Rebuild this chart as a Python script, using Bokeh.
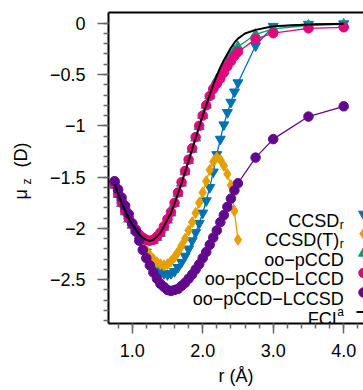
from bokeh.plotting import figure
from bokeh.models import Range1d, FixedTicker, LinearAxis, Label, Title
from bokeh.embed import file_html
from bokeh.resources import INLINE
import numpy as np

FONT = "Liberation Sans"

# ---------------- data ----------------
r_dense = [0.75, 0.80, 0.85, 0.90, 0.95, 1.00, 1.05, 1.10, 1.15, 1.20,
           1.25, 1.30, 1.35, 1.40, 1.45, 1.50, 1.55, 1.60, 1.65, 1.70,
           1.75, 1.80, 1.85, 1.90, 1.95, 2.00, 2.05, 2.10, 2.15, 2.20,
           2.25, 2.30, 2.35, 2.40, 2.45, 2.50]
r_sparse = [2.75, 3.0, 3.5, 4.0]
r_full = r_dense + r_sparse

ccsd_r = [-1.57, -1.66, -1.75, -1.83, -1.91, -1.97, -2.03, -2.09, -2.16, -2.23,
          -2.29, -2.34, -2.39, -2.42, -2.44, -2.45, -2.44, -2.42, -2.38, -2.33,
          -2.27, -2.20, -2.12, -2.04, -1.95, -1.85, -1.73, -1.60, -1.45, -1.28,
          -1.13, -0.99, -0.87, -0.77, -0.67, -0.58,
          -0.22, -0.03, -0.01, -0.005]

ccsdt_r = [-1.57, -1.66, -1.75, -1.83, -1.91, -1.97, -2.03, -2.09, -2.15, -2.21,
           -2.26, -2.30, -2.33, -2.35, -2.36, -2.35, -2.32, -2.28, -2.23, -2.17,
           -2.10, -2.02, -1.94, -1.85, -1.75, -1.65, -1.54, -1.43, -1.35, -1.31,
           -1.33, -1.39, -1.47, -1.58, -1.83, -2.11]

oo_pccd = [-1.58, -1.67, -1.76, -1.84, -1.91, -1.97, -2.02, -2.07, -2.10, -2.12,
           -2.13, -2.12, -2.09, -2.05, -1.99, -1.92, -1.85, -1.76, -1.66, -1.56,
           -1.45, -1.34, -1.23, -1.12, -1.01, -0.90, -0.80, -0.71, -0.62, -0.55,
           -0.49, -0.43, -0.37, -0.32, -0.27, -0.23,
           -0.11, -0.055, -0.02, -0.01]

oo_pccd_lccd = [-1.57, -1.66, -1.75, -1.83, -1.90, -1.96, -2.01, -2.06, -2.09, -2.11,
                -2.12, -2.11, -2.08, -2.04, -1.98, -1.91, -1.84, -1.75, -1.65, -1.55,
                -1.44, -1.33, -1.22, -1.11, -1.00, -0.90, -0.80, -0.71, -0.64, -0.59,
                -0.54, -0.48, -0.42, -0.37, -0.32, -0.28,
                -0.155, -0.097, -0.05, -0.04]

oo_pccd_lccsd = [-1.54, -1.62, -1.70, -1.78, -1.86, -1.95, -2.03, -2.12, -2.21, -2.29,
                 -2.36, -2.43, -2.49, -2.54, -2.57, -2.60, -2.61, -2.60, -2.59, -2.56,
                 -2.53, -2.49, -2.45, -2.40, -2.35, -2.29, -2.23, -2.16, -2.09, -2.02,
                 -1.94, -1.87, -1.79, -1.71, -1.63, -1.56,
                 -1.31, -1.13, -0.91, -0.81]

r_fci = r_dense + [2.60, 2.75, 3.0, 3.5, 4.0]
fci = [-1.57, -1.66, -1.75, -1.83, -1.90, -1.96, -2.01, -2.06, -2.09, -2.11,
       -2.12, -2.11, -2.08, -2.04, -1.98, -1.91, -1.85, -1.76, -1.66, -1.56,
       -1.45, -1.34, -1.23, -1.12, -1.01, -0.90, -0.80, -0.70, -0.60, -0.51,
       -0.43, -0.36, -0.30, -0.24, -0.19, -0.15,
       -0.10, -0.065, -0.03, -0.012, -0.005]

x_tick_values = [1, 2, 3, 4]
x_tick_labels = ["1.0", "2.0", "3.0", "4.0"]
y_tick_values = [0, -0.5, -1, -1.5, -2, -2.5]
y_tick_labels = ["0", "\u22120.5", "\u22121", "\u22121.5", "\u22122", "\u22122.5"]

x_title = "r (\u00c5)"
y_title_main = "\u03bc\u2003\u2009(D)"
y_title_sub = "z"

legend_names = ["CCSD", "CCSD(T)", "oo\u2212pCCD", "oo\u2212pCCD\u2212LCCD", "oo\u2212pCCD\u2212LCCSD", "FCI"]
legend_subs = ["r", "r", "", "", "", ""]
legend_sups = ["", "", "", "", "", "a"]

C_BLUE = "#0072B2"
C_ORANGE = "#E69F00"
C_GREEN = "#009E73"
C_MAGENTA = "#E0077D"
C_PURPLE = "#62088C"

# ---------------- layout ----------------
FIG_W, FIG_H = 363, 390
PX_PER_X, PX_PER_Y = 70.5, 102.6
FRAME_L, FRAME_T, FRAME_B = 108, 12, 67
FRAME_W, FRAME_H = FIG_W - FRAME_L, FIG_H - FRAME_T - FRAME_B
r0 = 1.0 - (131.7 - FRAME_L) / PX_PER_X
r1 = r0 + FRAME_W / PX_PER_X
v1 = (22.7 - FRAME_T) / PX_PER_Y
v0 = v1 - FRAME_H / PX_PER_Y


def px2x(px):
    return r0 + (px - FRAME_L) / PX_PER_X


def py2y(py):
    return v1 - (py - FRAME_T) / PX_PER_Y


p = figure(width=FIG_W, height=FIG_H, x_range=Range1d(r0, r1), y_range=Range1d(v0, v1),
           output_backend="svg", toolbar_location=None,
           min_border_left=FRAME_L, min_border_right=0, min_border_top=FRAME_T,
           min_border_bottom=FRAME_B)
p.grid.visible = False
p.outline_line_color = None
p.background_fill_color = "white"
p.border_fill_color = "white"

TICK_COL = "#666666"
xa = p.xaxis[0]
xa.ticker = FixedTicker(ticks=x_tick_values, minor_ticks=list(np.round(np.arange(0.8, 4.3, 0.2), 2)))
xa.major_label_overrides = {v: s for v, s in zip(x_tick_values, x_tick_labels)}
xa.axis_label = x_title
xa.axis_label_standoff = 6
xa.axis_label_text_font = FONT
xa.axis_label_text_font_size = "18px"
xa.axis_label_text_font_style = "normal"
xa.axis_label_text_color = "black"
ya = p.yaxis[0]
ya.ticker = FixedTicker(ticks=y_tick_values, minor_ticks=list(np.round(np.arange(-2.9, 0.05, 0.1), 2)))
ya.major_label_overrides = {v: s for v, s in zip(y_tick_values, y_tick_labels)}
for ax, out, sto in ((xa, 10, 10), (ya, 11, 12)):
    ax.axis_line_width = 2
    ax.axis_line_color = "black"
    ax.major_tick_in = 0
    ax.minor_tick_in = 0
    ax.major_tick_out = out
    ax.minor_tick_out = 5
    ax.major_tick_line_color = TICK_COL
    ax.minor_tick_line_color = TICK_COL
    ax.major_tick_line_width = 1.5
    ax.minor_tick_line_width = 1.5
    ax.major_label_text_font = FONT
    ax.major_label_text_font_size = "18px"
    ax.major_label_text_color = "black"
    ax.major_label_standoff = sto

top = LinearAxis(ticker=FixedTicker(ticks=[]), axis_line_width=2, axis_line_color="black",
                 major_tick_out=0, minor_tick_out=0, major_tick_in=0, minor_tick_in=0,
                 major_label_standoff=0, major_label_text_font_size="0px")
p.add_layout(top, "above")

# y title: subscript first (closest to the axis), then main text overlapping outward
t_sub = Title(text=y_title_sub, align="left", offset=323 - 184, standoff=26,
              text_font=FONT, text_font_size="12px", text_font_style="normal", text_color="black")
t_main = Title(text=y_title_main, align="left", offset=323 - 199, standoff=-53,
               text_font=FONT, text_font_size="18px", text_font_style="normal", text_color="black")
p.add_layout(t_sub, "left")
p.add_layout(t_main, "left")

# ---------------- series ----------------
LW = 1.3
p.line(r_full, ccsd_r, color=C_BLUE, line_width=LW)
p.scatter(r_full, ccsd_r, marker="inverted_triangle", size=10, color=C_BLUE)
p.line(r_dense, ccsdt_r, color=C_ORANGE, line_width=LW)
p.scatter(r_dense, ccsdt_r, marker="diamond", size=11, color=C_ORANGE)
p.line(r_full, oo_pccd, color=C_GREEN, line_width=LW)
p.scatter(r_full, oo_pccd, marker="triangle", size=10, color=C_GREEN)
p.line(r_full, oo_pccd_lccd, color=C_MAGENTA, line_width=LW)
p.scatter(r_full, oo_pccd_lccd, marker="circle", size=9.5, color=C_MAGENTA)
p.line(r_full, oo_pccd_lccsd, color=C_PURPLE, line_width=LW)
p.scatter(r_full, oo_pccd_lccsd, marker="circle", size=9.5, color=C_PURPLE)
p.line(r_fci, fci, color="black", line_width=2)

# ---------------- legend (hand-made, right aligned text, glyph on right) ----------------
TEXT_RIGHT = 343.3
ROW0, ROW_STEP = 220.0, 19.6
SUB_W = {"r": 4.5, "a": 7.0}
leg_markers = [("inverted_triangle", C_BLUE, 10), ("diamond", C_ORANGE, 11), ("triangle", C_GREEN, 10),
               ("circle", C_MAGENTA, 9.5), ("circle", C_PURPLE, 9.5)]
for i, name in enumerate(legend_names):
    base = ROW0 + ROW_STEP * i
    extra = legend_subs[i] or legend_sups[i]
    right = TEXT_RIGHT - (SUB_W[extra] if extra else 0)
    p.add_layout(Label(x=px2x(right), y=py2y(base), text=name, text_align="right",
                       text_baseline="alphabetic", text_font=FONT, text_font_size="18px",
                       text_color="black"))
    if legend_subs[i]:
        p.add_layout(Label(x=px2x(right + 0.5), y=py2y(base + 4), text=legend_subs[i], text_align="left",
                           text_baseline="alphabetic", text_font=FONT, text_font_size="12px",
                           text_color="black"))
    if legend_sups[i]:
        p.add_layout(Label(x=px2x(right + 0.5), y=py2y(base - 7), text=legend_sups[i], text_align="left",
                           text_baseline="alphabetic", text_font=FONT, text_font_size="12px",
                           text_color="black"))
    cy = base - 6.4
    if i < len(leg_markers):
        mk, col, sz = leg_markers[i]
        p.scatter([px2x(363)], [py2y(cy)], marker=mk, size=sz, color=col)
    else:
        p.line([px2x(356), px2x(372)], [py2y(cy), py2y(cy)], color="black", line_width=2)

open("out.html", "w").write(file_html(p, INLINE))
